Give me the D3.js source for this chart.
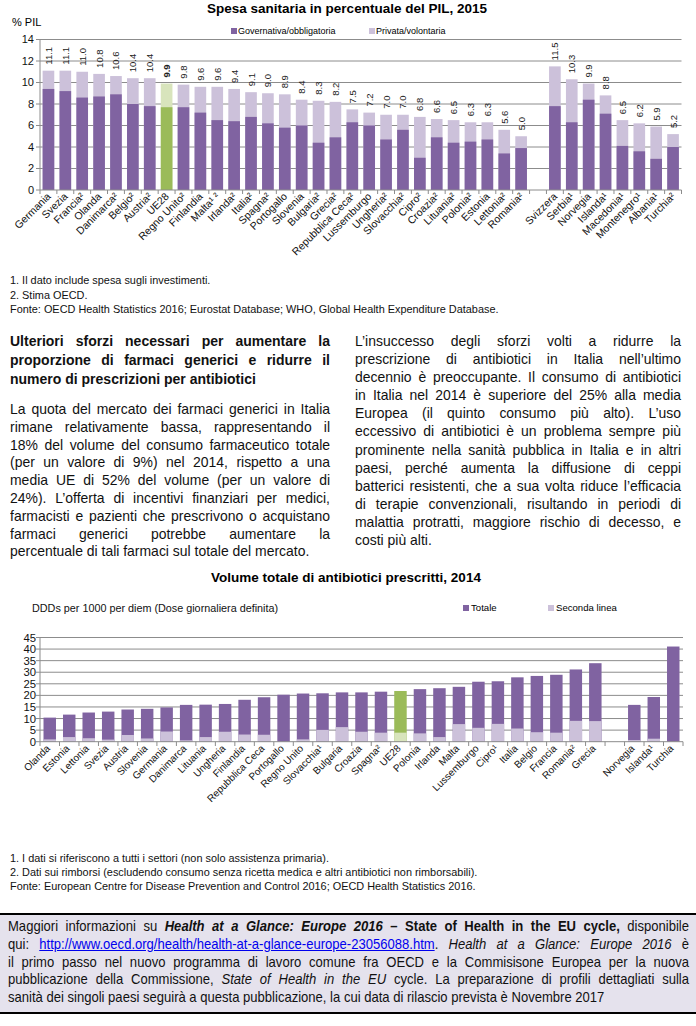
<!DOCTYPE html>
<html>
<head>
<meta charset="utf-8">
<script src="https://cdn.jsdelivr.net/npm/d3@7"></script>
<style>
body { margin:0; width:696px; height:1026px; position:relative; overflow:hidden; background:#fff; font-family:"Liberation Sans", Arial, sans-serif; }
svg { position:absolute; left:0; top:0; }
.blk { position:absolute; transform-origin:0 0; color:#111; }
.blk div { text-align:justify; text-align-last:justify; }
.blk div.ultima { text-align-last:left; }
.box { position:absolute; left:0; top:913px; width:696px; height:97px; background:#e5e2ed; border-top:2px solid #000; border-bottom:2px solid #000; }
a { color:#0000ee; }
</style>
</head>
<body>
<svg id="page" width="696" height="1026"></svg>
<div class="box"></div>

<script>
// --- spesa sanitaria, % PIL 2015 ---
const spesaPaesiUE = ["Germania","Svezia","Francia²","Olanda","Danimarca²","Belgio²","Austria²","UE28","Regno Unito²","Finlandia","Malta¹ ²","Irlanda²","Italia²","Spagna²","Portogallo","Slovenia","Bulgaria²","Grecia²","Repubblica Ceca²","Lussemburgo","Ungheria²","Slovacchia²","Cipro²","Croazia²","Lituania²","Polonia²","Estonia","Lettonia²","Romania²"]
const spesaTotaleUE = [11.1,11.1,11.0,10.8,10.6,10.4,10.4,9.9,9.8,9.6,9.6,9.4,9.1,9.0,8.9,8.4,8.3,8.2,7.5,7.2,7.0,7.0,6.8,6.6,6.5,6.3,6.3,5.6,5.0]
const spesaPubblicaUE = [9.4,9.2,8.6,8.7,8.9,8.0,7.8,7.7,7.7,7.2,6.5,6.4,6.8,6.2,5.8,6.0,4.4,4.9,6.3,6.0,4.7,5.6,3.0,4.9,4.4,4.5,4.7,3.4,3.9]
const spesaPaesiAltri = ["Svizzera","Serbia¹","Norvegia","Islanda¹","Macedonia¹","Montenegro¹","Albania¹","Turchia²"]
const spesaTotaleAltri = [11.5,10.3,9.9,8.8,6.5,6.2,5.9,5.2]
const spesaPubblicaAltri = [7.8,6.3,8.4,7.1,4.1,3.6,2.9,4.0]
const spesaTicks = [0,2,4,6,8,10,12,14]

// --- antibiotici, DDD per 1000 per diem 2014 ---
const antiPaesiUE = ["Olanda","Estonia","Lettonia","Svezia","Austria","Slovenia","Germania","Danimarca","Lituania","Ungheria","Finlandia","Repubblica Ceca","Portogallo","Regno Unito","Slovacchia¹","Bulgaria","Croazia","Spagna²","UE28","Polonia","Irlanda","Malta","Lussemburgo","Cipro¹","Italia","Belgio","Francia","Romania²","Grecia"]
const antiTotaleUE = [10.4,11.7,12.6,13.0,13.9,14.2,14.8,15.9,16.0,16.3,18.1,19.2,20.3,20.8,20.9,21.3,21.3,21.6,21.9,22.7,23.1,23.7,25.9,26.1,27.8,28.4,28.9,31.2,33.9]
const antiSecondaUE = [1.0,2.0,1.5,0.9,2.9,1.4,4.4,0.6,2.0,4.3,3.1,3.0,0,1.0,5.1,6.3,4.3,3.9,3.9,3.6,2.0,7.6,6.0,7.7,5.7,4.1,3.9,9.0,8.9]
const antiPaesiAltri = ["Norvegia","Islanda¹","Turchia"]
const antiTotaleAltri = [15.9,19.3,41.1]
const antiSecondaAltri = [0.7,1.3,0]
const antiTicks = [0,5,10,15,20,25,30,35,40,45]

// --- testo, una riga per elemento come nell'originale ---
const titoloSezione = ["Ulteriori sforzi necessari per aumentare la", "proporzione di farmaci generici e ridurre il", "numero di prescrizioni per antibiotici"]
const testoSinistra = ["La quota del mercato dei farmaci generici in Italia", "rimane relativamente bassa, rappresentando il",
  "18% del volume del consumo farmaceutico totale", "(per un valore di 9%) nel 2014, rispetto a una",
  "media UE di 52% del volume (per un valore di", "24%). L’offerta di incentivi finanziari per medici,",
  "farmacisti e pazienti che prescrivono o acquistano", "farmaci generici potrebbe aumentare la",
  "percentuale di tali farmaci sul totale del mercato."]
const testoDestra = ["L’insuccesso degli sforzi volti a ridurre la", "prescrizione di antibiotici in Italia nell’ultimo",
  "decennio è preoccupante. Il consumo di antibiotici", "in Italia nel 2014 è superiore del 25% alla media",
  "Europea (il quinto consumo più alto). L’uso", "eccessivo di antibiotici è un problema sempre più",
  "prominente nella sanità pubblica in Italia e in altri", "paesi, perché aumenta la diffusione di ceppi",
  "batterici resistenti, che a sua volta riduce l’efficacia", "di terapie convenzionali, risultando in periodi di",
  "malattia protratti, maggiore rischio di decesso, e", "costi più alti."]
const testoBox = ["Maggiori informazioni su <b><i>Health at a Glance: Europe 2016</i> – State of Health in the EU cycle,</b> disponibile",
  "qui: <a href='#'>http://www.oecd.org/health/health-at-a-glance-europe-23056088.htm</a>. <i>Health at a Glance: Europe 2016</i> è",
  "il primo passo nel nuovo programma di lavoro comune fra OECD e la Commisisone Europea per la nuova",
  "pubblicazione della Commissione, <i>State of Health in the EU</i> cycle. La preparazione di profili dettagliati sulla",
  "sanità dei singoli paesi seguirà a questa pubblicazione, la cui data di rilascio prevista è Novembre 2017"]

const scuro = "#8063a1", chiaro = "#ccc1da", verde = "#9bbb59", verdeChiaro = "#d8e4bc"
const griglia = "#8c8c8c"

const svg = d3.select("#page")

// justified text block, squeezed horizontally to get the narrow look
function blocco(left, top, width, scale, size, lh, righe, bold) {
  const b = d3.select("body").append("div").attr("class", "blk")
    .style("left", left + "px").style("top", top + "px")
    .style("width", (width / scale) + "px")
    .style("transform", "scaleX(" + scale + ")")
    .style("font-size", size + "px").style("line-height", lh + "px")
    .style("font-weight", bold ? "bold" : "normal")
  b.selectAll("div").data(righe).join("div")
    .classed("ultima", (d, i) => i == righe.length - 1)
    .html(d => d)
}

blocco(10, 331.5, 320, 1, 14, 19, titoloSezione, true)
blocco(10, 400, 320, 0.93, 15, 17.8, testoSinistra, false)
blocco(355, 332, 326, 0.93, 15, 18.1, testoDestra, false)
blocco(8, 917, 681, 0.87, 15, 17.8, testoBox, false)

// builds rows with an empty slot between EU and non-EU countries
function righe(paesi, a, b, paesi2, a2, b2) {
  const r = paesi.map((p, i) => ({nome: p, a: a[i], b: b[i]}))
  r.push({nome: "_gap", a: null, b: null})
  paesi2.forEach((p, i) => r.push({nome: p, a: a2[i], b: b2[i]}))
  return r
}

function assi(g, y, ticks, x0, x1, fontY, tickLabelX) {
  g.selectAll(".grid").data(ticks.filter(t => t > 0)).join("line")
    .attr("x1", x0).attr("x2", x1)
    .attr("y1", d => y(d)).attr("y2", d => y(d))
    .attr("stroke", griglia).attr("stroke-width", 1)
  g.selectAll(".ytick").data(ticks).join("line")
    .attr("x1", x0 - 4).attr("x2", x0)
    .attr("y1", d => y(d)).attr("y2", d => y(d))
    .attr("stroke", griglia)
  g.selectAll(".ylab").data(ticks).join("text")
    .attr("x", tickLabelX).attr("y", d => y(d) + fontY * 0.36)
    .attr("text-anchor", "end").attr("font-size", fontY).attr("fill", "#111")
    .text(d => d)
}

// ============ chart 1 ============
const rows1 = righe(spesaPaesiUE, spesaTotaleUE, spesaPubblicaUE, spesaPaesiAltri, spesaTotaleAltri, spesaPubblicaAltri)
const x1 = d3.scaleBand().domain(rows1.map(d => d.nome)).range([40, 681.5]).paddingInner(0.31).paddingOuter(0.155)
const y1 = d3.scaleLinear().domain([0, 14]).range([190, 39.5])
const g1 = svg.append("g")

g1.append("text").attr("x", 347).attr("y", 13).attr("text-anchor", "middle")
  .attr("font-size", 13.5).attr("font-weight", "bold").text("Spesa sanitaria in percentuale del PIL, 2015")
g1.append("text").attr("x", 12).attr("y", 26).attr("font-size", 11).text("% PIL")

assi(g1, y1, spesaTicks, 40, 681.5, 11, 34)

const bars1 = rows1.filter(d => d.a != null)
g1.selectAll(".tot").data(bars1).join("rect")
  .attr("x", d => x1(d.nome)).attr("width", x1.bandwidth())
  .attr("y", d => y1(d.a)).attr("height", d => y1(0) - y1(d.a))
  .attr("fill", d => d.nome == "UE28" ? verdeChiaro : chiaro)
g1.selectAll(".pub").data(bars1).join("rect")
  .attr("x", d => x1(d.nome)).attr("width", x1.bandwidth())
  .attr("y", d => y1(d.b)).attr("height", d => y1(0) - y1(d.b))
  .attr("fill", d => d.nome == "UE28" ? verde : scuro)
g1.selectAll(".val").data(bars1).join("text")
  .attr("transform", d => "translate(" + (x1(d.nome) + x1.bandwidth() / 2 + 3.5) + "," + (y1(d.a) - 6) + ")rotate(-90)")
  .attr("font-size", 9.5).attr("fill", "#222")
  .attr("font-weight", d => d.nome == "UE28" ? "bold" : "normal")
  .text(d => d.a.toFixed(1))

// x axis with ticks between categories
g1.append("line").attr("x1", 40).attr("x2", 681.5).attr("y1", 190).attr("y2", 190).attr("stroke", griglia)
g1.append("line").attr("x1", 40).attr("x2", 40).attr("y1", 39.5).attr("y2", 190).attr("stroke", griglia)
g1.selectAll(".xt").data(d3.range(rows1.length + 1)).join("line")
  .attr("x1", i => 40 + i * x1.step()).attr("x2", i => 40 + i * x1.step())
  .attr("y1", 190).attr("y2", 194).attr("stroke", griglia)
g1.selectAll(".xl").data(bars1).join("text")
  .attr("transform", d => "translate(" + (x1(d.nome) + x1.bandwidth() / 2 + 3) + ",197)rotate(-45)")
  .attr("text-anchor", "end").attr("font-size", 10.5).attr("fill", "#111")
  .text(d => d.nome)

// legend
g1.append("rect").attr("x", 231).attr("y", 28).attr("width", 6).attr("height", 6).attr("fill", scuro)
g1.append("text").attr("x", 238).attr("y", 34).attr("font-size", 9).text("Governativa/obbligatoria")
g1.append("rect").attr("x", 369).attr("y", 28).attr("width", 6).attr("height", 6).attr("fill", chiaro)
g1.append("text").attr("x", 376).attr("y", 34).attr("font-size", 9).text("Privata/volontaria")

const note1 = ["1. Il dato include spesa sugli investimenti.", "2. Stima OECD.",
  "Fonte: OECD Health Statistics 2016; Eurostat Database; WHO, Global Health Expenditure Database."]
g1.selectAll(".nota").data(note1).join("text")
  .attr("x", 10).attr("y", (d, i) => 284 + i * 14.5).attr("font-size", 10.9).attr("fill", "#111").text(d => d)

// ============ chart 2 ============
const rows2 = righe(antiPaesiUE, antiTotaleUE, antiSecondaUE, antiPaesiAltri, antiTotaleAltri, antiSecondaAltri)
const x2 = d3.scaleBand().domain(rows2.map(d => d.nome)).range([40, 683]).paddingInner(0.36).paddingOuter(0.18)
const y2 = d3.scaleLinear().domain([0, 45]).range([741.7, 637.5])
const g2 = svg.append("g")

g2.append("text").attr("x", 346).attr("y", 582).attr("text-anchor", "middle")
  .attr("font-size", 13.5).attr("font-weight", "bold").text("Volume totale di antibiotici prescritti, 2014")
g2.append("text").attr("x", 32).attr("y", 612).attr("font-size", 10.8).attr("fill", "#111")
  .text("DDDs per 1000 per diem (Dose giornaliera definita)")

assi(g2, y2, antiTicks, 40, 683, 11.3, 36)

const bars2 = rows2.filter(d => d.a != null)
g2.selectAll(".tot").data(bars2).join("rect")
  .attr("x", d => x2(d.nome)).attr("width", x2.bandwidth())
  .attr("y", d => y2(d.a)).attr("height", d => y2(0) - y2(d.a))
  .attr("fill", d => d.nome == "UE28" ? verde : scuro)
g2.selectAll(".sec").data(bars2.filter(d => d.b > 0)).join("rect")
  .attr("x", d => x2(d.nome)).attr("width", x2.bandwidth())
  .attr("y", d => y2(d.b)).attr("height", d => y2(0) - y2(d.b))
  .attr("fill", d => d.nome == "UE28" ? verdeChiaro : chiaro)

g2.append("line").attr("x1", 40).attr("x2", 683).attr("y1", 741.7).attr("y2", 741.7).attr("stroke", griglia)
g2.append("line").attr("x1", 40).attr("x2", 40).attr("y1", 637.5).attr("y2", 741.7).attr("stroke", griglia)
g2.selectAll(".xt").data(d3.range(rows2.length + 1)).join("line")
  .attr("x1", i => 40 + i * x2.step()).attr("x2", i => 40 + i * x2.step())
  .attr("y1", 741.7).attr("y2", 746).attr("stroke", griglia)
g2.selectAll(".xl").data(bars2).join("text")
  .attr("transform", d => "translate(" + (x2(d.nome) + x2.bandwidth() / 2 + 1) + ",749)rotate(-45)")
  .attr("text-anchor", "end").attr("font-size", 10).attr("fill", "#111")
  .text(d => d.nome)

g2.append("rect").attr("x", 463).attr("y", 605).attr("width", 6).attr("height", 6).attr("fill", scuro)
g2.append("text").attr("x", 471).attr("y", 611).attr("font-size", 9.6).text("Totale")
g2.append("rect").attr("x", 548).attr("y", 605).attr("width", 6).attr("height", 6).attr("fill", chiaro)
g2.append("text").attr("x", 556).attr("y", 611).attr("font-size", 9.6).text("Seconda linea")

const note2 = ["1. I dati si riferiscono a tutti i settori (non solo assistenza primaria).",
  "2. Dati sui rimborsi (escludendo consumo senza ricetta medica e altri antibiotici non rimborsabili).",
  "Fonte: European Centre for Disease Prevention and Control 2016; OECD Health Statistics 2016."]
g2.selectAll(".nota").data(note2).join("text")
  .attr("x", 10).attr("y", (d, i) => 862 + i * 14).attr("font-size", 10.9).attr("fill", "#111").text(d => d)
</script>
</body>
</html>
